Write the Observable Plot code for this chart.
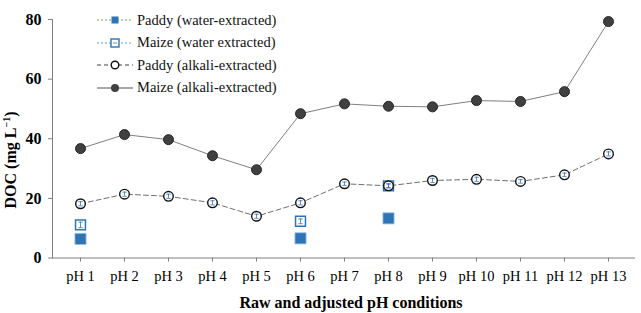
<!DOCTYPE html>
<html><head><meta charset="utf-8">
<script src="https://cdn.jsdelivr.net/npm/d3@7"></script>
<script src="https://cdn.jsdelivr.net/npm/@observablehq/plot@0.6"></script>
<style>
body{margin:0;background:#fff;}
#wrap{position:relative;width:641px;height:313px;font-family:"Times New Roman","Liberation Serif",serif;color:#000;}
#legend{position:absolute;left:95px;top:9px;font-size:14.5px;color:#111;}
#legend .row{height:22.5px;display:flex;align-items:center;}
#legend svg{margin-right:2px;}
#ytitle{position:absolute;left:11px;top:160px;transform:translate(-50%,-50%) rotate(-90deg);white-space:nowrap;font-weight:bold;font-size:16px;line-height:18px;}
#ytitle sup{font-size:10px;line-height:0;}
#xtitle{position:absolute;left:351px;top:303px;transform:translate(-50%,-50%);white-space:nowrap;font-weight:bold;font-size:16px;}
</style></head>
<body><div id="wrap"><div id="chart"></div><div id="legend"></div><div id="ytitle"></div><div id="xtitle"></div></div>
<script>
const categories = ["pH 1","pH 2","pH 3","pH 4","pH 5","pH 6","pH 7","pH 8","pH 9","pH 10","pH 11","pH 12","pH 13"];
const maizeAlkali = [36.7,41.4,39.7,34.3,29.6,48.4,51.7,50.9,50.7,52.8,52.5,55.8,79.3];
const paddyAlkali = [18.2,21.4,20.7,18.5,14.0,18.5,24.9,24.2,26.0,26.4,25.7,27.9,34.9];
const paddyAlkaliErr = [0.7,0.7,0.7,0.7,0.7,0.7,0.6,0.7,0.7,0.7,0.6,0.6,0.7];
const waterCats = ["pH 1","pH 6","pH 8"];
const paddyWater = [6.4,6.6,13.3];
const maizeWater = [11.1,12.3,24.2];
const maizeWaterErr = [0.9,0.8,0.6];
const yTicks = [0,20,40,60,80];
const legendLabels = ["Paddy (water-extracted)","Maize (water extracted)","Paddy (alkali-extracted)","Maize (alkali-extracted)"];
const yTitle = "DOC (mg L<sup>−1</sup>)";
const xTitle = "Raw and adjusted pH conditions";

const blue = "#2e75b6";
const ma = categories.map((c,i)=>({c, v:maizeAlkali[i]}));
const pa = categories.map((c,i)=>({c, v:paddyAlkali[i], e:paddyAlkaliErr[i]}));
const pw = waterCats.map((c,i)=>({c, v:paddyWater[i]}));
const mw = waterCats.map((c,i)=>({c, v:maizeWater[i], e:maizeWaterErr[i]}));
const cap = {draw(ctx,size){const w=Math.sqrt(size);ctx.moveTo(-w/2,0);ctx.lineTo(w/2,0);}};
const errs = [...pa, ...mw];

const chart = Plot.plot({
  width:641, height:313,
  marginLeft:52, marginRight:6, marginTop:19, marginBottom:55.5,
  style:{fontFamily:"'Times New Roman','Liberation Serif',serif", color:"#000", background:"transparent"},
  x:{type:"point", domain:categories, padding:0.5},
  y:{domain:[0,80]},
  marks:[
    Plot.frame({anchor:"left", stroke:"#808080"}),
    Plot.ruleY([0], {stroke:"#808080"}),
    Plot.axisY({ticks:yTicks, tickSize:4, tickPadding:7, stroke:"#808080", fill:"#000", fontSize:16, fontWeight:"bold", label:null}),
    Plot.axisX({tickSize:4, tickPadding:9, stroke:"#808080", fill:"#000", fontSize:14.5, label:null}),
    Plot.line(ma, {x:"c", y:"v", stroke:"#7f7f7f", strokeWidth:1}),
    Plot.line(pa, {x:"c", y:"v", stroke:"#6f6f6f", strokeWidth:1, strokeDasharray:"5,3"}),
    Plot.dot(pw, {x:"c", y:"v", symbol:"square", r:6.3, fill:blue, stroke:"#9dc3e6", strokeWidth:0.8}),
    Plot.dot(mw, {x:"c", y:"v", symbol:"square", r:5.6, fill:"white", stroke:blue, strokeWidth:1.5}),
    Plot.dot(ma, {x:"c", y:"v", r:5, fill:"#404040", stroke:"#262626", strokeWidth:1}),
    Plot.dot(pa, {x:"c", y:"v", r:4.8, fill:"white", stroke:"#111", strokeWidth:1.4}),
    Plot.ruleX(errs, {x:"c", y1:d=>d.v-d.e, y2:d=>d.v+d.e, stroke:blue, strokeWidth:0.8}),
    Plot.dot(errs, {x:"c", y:d=>d.v+d.e, symbol:cap, r:2.5, stroke:blue, strokeWidth:0.8}),
    Plot.dot(errs, {x:"c", y:d=>d.v-d.e, symbol:cap, r:2.5, stroke:blue, strokeWidth:0.8})
  ]
});
document.getElementById("chart").appendChild(chart);
document.getElementById("ytitle").innerHTML = yTitle;
document.getElementById("xtitle").textContent = xTitle;

// legend
const sym = [
  `<line x1="2" y1="8" x2="38" y2="8" stroke="#70ad47" stroke-width="1" stroke-dasharray="2,2"/><rect x="16.5" y="4.5" width="7" height="7" fill="${blue}"/>`,
  `<line x1="2" y1="8" x2="38" y2="8" stroke="#5b9bd5" stroke-width="1" stroke-dasharray="2,2"/><rect x="16" y="4" width="8" height="8" fill="white" stroke="${blue}" stroke-width="1.4"/><line x1="18" y1="8" x2="22" y2="8" stroke="${blue}" stroke-width="0.8"/>`,
  `<line x1="2" y1="8" x2="38" y2="8" stroke="#404040" stroke-width="1" stroke-dasharray="4,3"/><circle cx="20" cy="8" r="3.8" fill="white" stroke="#111" stroke-width="1.4"/>`,
  `<line x1="2" y1="8" x2="38" y2="8" stroke="#555" stroke-width="1"/><circle cx="20" cy="8" r="4" fill="#404040"/>`
];
const lg = document.getElementById("legend");
legendLabels.forEach((t,i)=>{
  const r = document.createElement("div"); r.className="row";
  r.innerHTML = `<svg width="40" height="16">${sym[i]}</svg><span>${t}</span>`;
  lg.appendChild(r);
});
</script></body></html>
